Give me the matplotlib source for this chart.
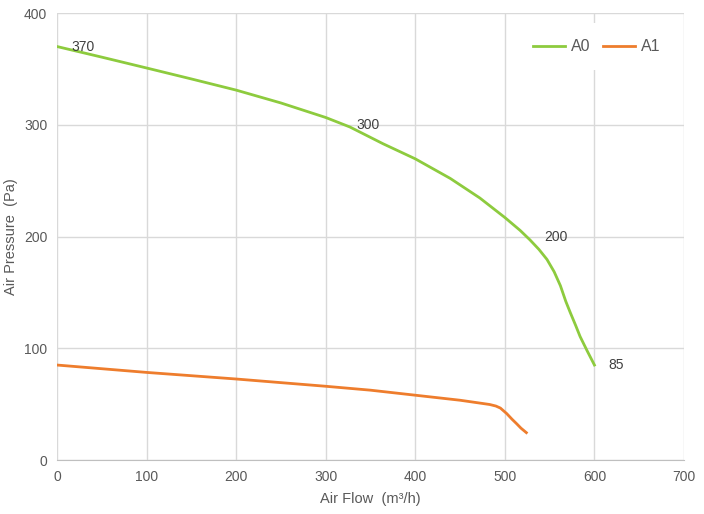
import matplotlib
matplotlib.use("Agg")
import matplotlib.pyplot as plt

# curve A0
a0_flow = [0, 50, 100, 150, 200, 250, 300, 327, 364, 400, 439, 472, 500, 517,
           528, 538, 547, 555, 562, 568, 573, 579, 584, 592, 600]
a0_pressure = [370, 360.5, 350.8, 341, 331, 319.5, 306.5, 298, 283, 269.5, 252, 234.5, 217, 205.5,
               197, 188.5, 179.5, 168.5, 156, 142, 132, 120.5, 110.5, 97.5, 85]

# curve A1
a1_flow = [0, 100, 200, 300, 350, 400, 450, 483, 490, 495, 502, 508, 513, 518, 524]
a1_pressure = [85, 78.4, 72.5, 66, 62.5, 58, 53.5, 49.7, 48.3, 46.5, 41.6, 36.5, 32.6, 28.5, 24.5]

# data labels on A0
label_flow = [0, 319, 528, 600]
label_pressure = [370, 300, 200, 85]
label_text = ["370", "300", "200", "85"]

GREEN = "#8DCB3E"
ORANGE = "#EE7D2D"
TEXT = "#595959"
GRID = "#D9D9D9"

plt.rcParams["font.family"] = ["Liberation Sans", "DejaVu Sans"]

fig = plt.figure(figsize=(7.04, 5.14), dpi=100)
ax = fig.add_axes([0.081, 0.105, 0.8906, 0.8697])

ax.plot(a0_flow, a0_pressure, color=GREEN, lw=2, label="A0", solid_joinstyle="round")
ax.plot(a1_flow, a1_pressure, color=ORANGE, lw=2, label="A1", solid_joinstyle="round")

for fx, py, t in zip(label_flow, label_pressure, label_text):
    ax.annotate(t, (fx, py), xytext=(10, 0), textcoords="offset points",
                ha="left", va="center", fontsize=10, color="#404040")

ax.set_xlim(0, 700)
ax.set_ylim(0, 400)
ax.set_xticks(range(0, 701, 100))
ax.set_yticks(range(0, 401, 100))
ax.grid(True, color=GRID, lw=1)
ax.set_axisbelow(True)
for side in ["top", "right", "left"]:
    ax.spines[side].set_visible(False)
ax.spines["bottom"].set_color("#BFBFBF")
ax.tick_params(length=0, labelsize=10, colors=TEXT, pad=7)

ax.set_xlabel("Air Flow  (m³/h)", fontsize=10.5, color=TEXT, labelpad=6)
ax.set_ylabel("Air Pressure  (Pa)", fontsize=10.5, color=TEXT, labelpad=4)

leg = ax.legend(loc="upper right", ncol=2, frameon=True, fontsize=11.5,
                handlelength=2.0, columnspacing=0.8, handletextpad=0.35,
                borderpad=1.0, bbox_to_anchor=(1.0, 0.995))
leg.get_frame().set_facecolor("white")
leg.get_frame().set_edgecolor("none")
leg.get_frame().set_alpha(1)
for t in leg.get_texts():
    t.set_color(TEXT)

fig.savefig("out.png", dpi=100)
